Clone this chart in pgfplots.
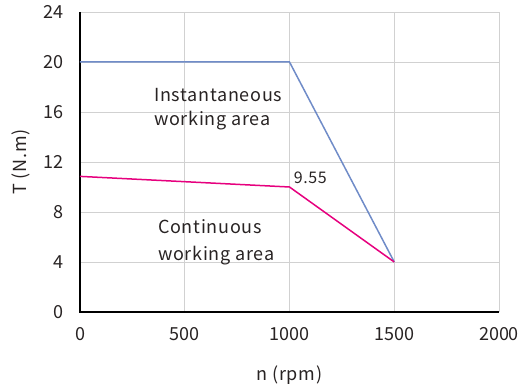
\documentclass[border=0pt]{standalone}
\usepackage{fontspec}
\setmainfont{Noto Sans CJK SC}
\newfontfamily\lbl[LetterSpace=4]{Noto Sans CJK SC}
\usepackage{pgfplots}
\pgfplotsset{compat=1.18}
\definecolor{bl}{RGB}{112,140,200}
\definecolor{pk}{RGB}{230,0,126}
\definecolor{tx}{RGB}{40,35,35}
\begin{document}
\begin{tikzpicture}[x=1pt,y=1pt]
\useasboundingbox (-80,-71) rectangle (442,312);
\begin{axis}[
  at={(0,0)}, anchor=south west,
  scale only axis, width=419pt, height=300pt,
  xmin=0, xmax=2000, ymin=0, ymax=24,
  xtick={0,500,...,2000}, ytick={0,4,...,24},
  grid=major, major grid style={draw=black!18, line width=0.8pt},
  axis line style={draw=none},
  tick style={draw=none},
  /pgf/number format/assume math mode=true,
  /pgf/number format/1000 sep={},
  ticklabel style={font=\fontsize{18}{21}\selectfont, text=tx},
  xticklabel style={yshift=-12pt},
  yticklabel style={xshift=-13pt},
  xlabel={n (rpm)}, ylabel={T (N.m)},
  label style={font=\lbl\fontsize{18}{21}\selectfont, text=tx},
  xlabel style={yshift=-18pt},
  ylabel style={yshift=7pt},
  clip=false,
]
\addplot[draw=black, line width=1.5pt] coordinates {(0,24) (0,0) (2000,0)};
\addplot[bl, line width=1.5pt] coordinates {(0,20) (1000,20) (1500,4)};
\addplot[pk, line width=1.5pt] coordinates {(0,10.85) (1000,10.0) (1500,4)};
\node[anchor=west, align=left, font=\lbl\fontsize{18}{24}\selectfont, text=tx, inner sep=0pt] at (axis cs:353,16.2) {Instantaneous\\working area};
\node[anchor=west, align=left, font=\lbl\fontsize{18}{27}\selectfont, text=tx, inner sep=0pt] at (axis cs:372,5.55) {Continuous\\working area};
\node[anchor=south west, font=\lbl\fontsize{16}{19}\selectfont, text=tx, inner sep=1pt] at (axis cs:1015,10.2) {9.55};
\end{axis}
\end{tikzpicture}
\end{document}
